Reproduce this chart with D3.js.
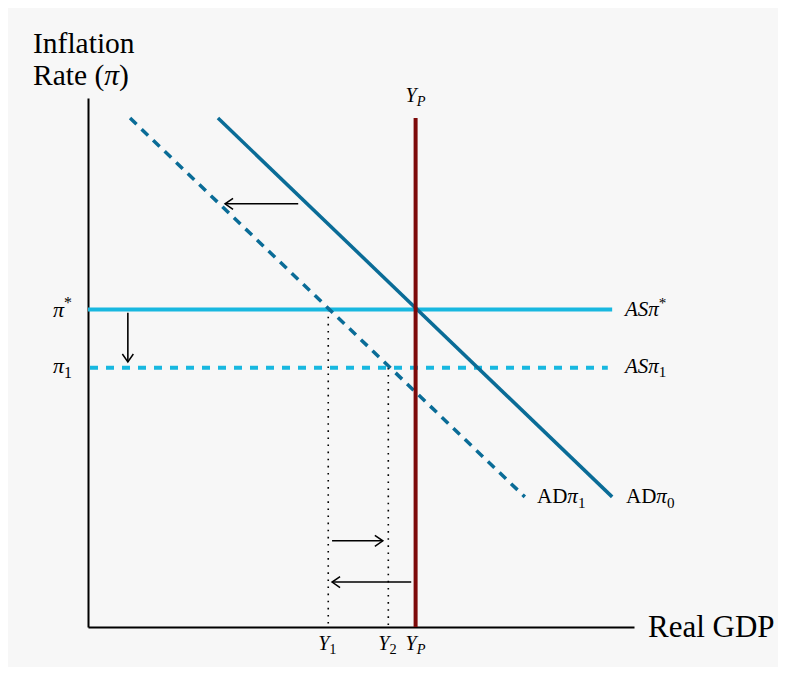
<!DOCTYPE html>
<html><head><meta charset="utf-8">
<script src="https://cdn.jsdelivr.net/npm/d3@7"></script>
<style>body{margin:0;background:#fff}text{font-family:"Liberation Serif","DejaVu Serif",serif;fill:#000}</style>
</head><body><svg id="c" width="787" height="675"></svg>
<script>
// ---- data (model units) ----
const piStar = 6.0, pi1 = 4.9;
const YP = 6.0, Y1 = 4.40, Y2 = 5.50;
const ad0 = [[2.38, 9.62], [9.60, 2.46]];
const ad1 = [[0.77, 9.62], [8.00, 2.46]];
const asStarEnd = 9.60, as1End = 9.52;
const ypTop = 9.62;
const arrowsData = [
  [[3.85, 8.0], [2.51, 8.0]],
  [[0.73, 5.94], [0.73, 5.01]],
  [[4.47, 1.63], [5.40, 1.63]],
  [[5.92, 0.85], [4.47, 0.85]]
];
const colAD = "#0a6c97", colAS = "#18b8e0", colYP = "#7d0a0a";

const svg = d3.select("#c");
svg.append("rect").attr("x", 8).attr("y", 8).attr("width", 770).attr("height", 659).attr("fill", "#f7f7f7");
const x = d3.scaleLinear().domain([0, 10]).range([88, 634]);
const y = d3.scaleLinear().domain([0, 10]).range([627, 98]);
const line = d3.line().x(d => x(d[0])).y(d => y(d[1]));

svg.append("defs").append("marker").attr("id", "ah").attr("markerUnits", "userSpaceOnUse")
  .attr("markerWidth", 20).attr("markerHeight", 20).attr("refX", 10).attr("refY", 10).attr("orient", "auto")
  .append("path").attr("d", "M2,4.5 L10,10 L2,15.5").attr("fill", "none").attr("stroke", "#000").attr("stroke-width", 1.5);

// axes
svg.append("g").attr("transform", `translate(0,${y(0)})`)
  .call(d3.axisBottom(x).tickValues([]).tickSizeOuter(0));
svg.append("g").attr("transform", `translate(${x(0)},0)`)
  .call(d3.axisLeft(y).tickValues([]).tickSizeOuter(0));
svg.selectAll(".domain").attr("stroke", "#000").attr("stroke-width", 2);

// dotted guides
[[Y1, piStar], [Y2, pi1]].forEach(([gx_, gy_]) => {
  svg.append("path").attr("d", line([[gx_, gy_], [gx_, 0]])).attr("stroke", "#000")
    .attr("stroke-width", 1.6).attr("stroke-dasharray", "1.6,5.5").attr("fill", "none");
});

// AS lines
svg.append("path").attr("d", line([[0, piStar], [asStarEnd, piStar]])).attr("stroke", colAS).attr("stroke-width", 4).attr("fill", "none");
svg.append("path").attr("d", line([[0, pi1], [as1End, pi1]])).attr("stroke", colAS).attr("stroke-width", 4).attr("stroke-dasharray", "8,8").attr("stroke-dashoffset", -2).attr("fill", "none");

// AD lines
svg.append("path").attr("d", line(ad1)).attr("stroke", colAD).attr("stroke-width", 3.5).attr("stroke-dasharray", "9,7").attr("fill", "none");
svg.append("path").attr("d", line(ad0)).attr("stroke", colAD).attr("stroke-width", 3.5).attr("fill", "none");

// YP
svg.append("path").attr("d", line([[YP, ypTop], [YP, 0]])).attr("stroke", colYP).attr("stroke-width", 4).attr("fill", "none");

// arrows
arrowsData.forEach(a => {
  svg.append("path").attr("d", line(a)).attr("stroke", "#000").attr("stroke-width", 1.6).attr("fill", "none").attr("marker-end", "url(#ah)");
});

// helper for math text
function mtext(px, py, parts, size, anchor) {
  const t = svg.append("text").attr("x", px).attr("y", py).attr("font-size", size).attr("text-anchor", anchor || "start");
  parts.forEach(p => {
    const s = t.append("tspan").text(p.t);
    if (p.i) s.attr("font-style", "italic");
    if (p.sub) s.attr("font-size", size * 0.72).attr("dy", size * 0.22);
    if (p.sup) s.attr("font-size", size * 0.72).attr("dy", -size * 0.38);
  });
  return t;
}

// axis titles
svg.append("text").attr("x", 33).attr("y", 53).attr("font-size", 29.5).text("Inflation");
mtext(33, 85, [{t: "Rate ("}, {t: "π", i: true}, {t: ")"}], 29.5);
svg.append("text").attr("x", 648).attr("y", 637).attr("font-size", 31).text("Real GDP");

// y labels
mtext(53, y(piStar) + 7, [{t: "π", i: true}, {t: "*", sup: true}], 22);
mtext(53, y(pi1) + 5, [{t: "π", i: true}, {t: "1", sub: true}], 22);

// x labels
mtext(x(Y1) - 10, 650, [{t: "Y", i: true}, {t: "1", sub: true}], 20);
mtext(x(Y2) - 10, 650, [{t: "Y", i: true}, {t: "2", sub: true}], 20);
mtext(x(YP) - 10, 650, [{t: "Y", i: true}, {t: "P", sub: true, i: true}], 20);
mtext(x(YP) - 10, 102, [{t: "Y", i: true}, {t: "P", sub: true, i: true}], 20);

// line labels
mtext(625, y(piStar) + 6, [{t: "ASπ", i: true}, {t: "*", sup: true}], 21);
mtext(625, y(pi1) + 5, [{t: "ASπ", i: true}, {t: "1", sub: true}], 21);
mtext(537, 503, [{t: "AD"}, {t: "π", i: true}, {t: "1", sub: true}], 21);
mtext(626, 503, [{t: "AD"}, {t: "π", i: true}, {t: "0", sub: true}], 21);
</script></body></html>
